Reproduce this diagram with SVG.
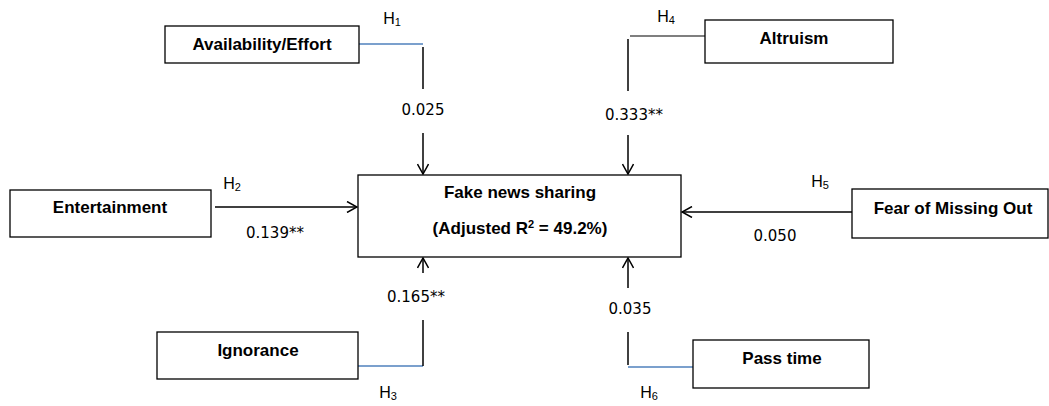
<svg xmlns="http://www.w3.org/2000/svg" width="1049" height="406" viewBox="0 0 1049 406">
<style>
.box{fill:#fff;stroke:#000;stroke-width:1.3}
.lbl{font-family:"Liberation Sans",Arial,sans-serif;font-weight:bold;font-size:17px;text-anchor:middle;fill:#000}
.num{font-family:"DejaVu Sans",Verdana,sans-serif;font-size:15px;text-anchor:middle;fill:#000}
.h{font-family:"Liberation Sans",Arial,sans-serif;font-size:16px;text-anchor:middle;fill:#000}
.ln{fill:none;stroke:#000;stroke-width:1.5}
.bl{fill:none;stroke:#4f81bd;stroke-width:1.5}
.gr{fill:none;stroke:#555;stroke-width:1.5}
</style>
<defs>
<marker id="arr" viewBox="0 0 12 12" refX="11" refY="6" markerWidth="12" markerHeight="12" markerUnits="userSpaceOnUse" orient="auto">
<polyline points="1,0.5 11,6 1,11.5" fill="none" stroke="#000" stroke-width="1.5"/>
</marker>
</defs>
<g id="connectors">
<line class="bl" x1="359" y1="44" x2="423" y2="44"/>
<line class="ln" x1="423" y1="47" x2="423" y2="89"/>
<line class="ln" x1="423" y1="133" x2="423" y2="174" marker-end="url(#arr)"/>
<line class="gr" x1="630" y1="36" x2="705" y2="36"/>
<line class="ln" x1="628" y1="39" x2="628" y2="91"/>
<line class="ln" x1="628" y1="135" x2="628" y2="174" marker-end="url(#arr)"/>
<line class="ln" x1="215" y1="207" x2="357" y2="207" marker-end="url(#arr)"/>
<line class="ln" x1="852" y1="212" x2="682" y2="212" marker-end="url(#arr)"/>
<line class="bl" x1="358" y1="366" x2="423" y2="366"/>
<line class="ln" x1="423" y1="366" x2="423" y2="320"/>
<line class="ln" x1="423" y1="273" x2="423" y2="258" marker-end="url(#arr)"/>
<line class="bl" x1="628" y1="367" x2="693" y2="367"/>
<line class="ln" x1="628" y1="365" x2="628" y2="332"/>
<line class="ln" x1="628" y1="288" x2="628" y2="258" marker-end="url(#arr)"/>
<text class="h" x="392" y="24">H<tspan font-size="11" dy="2">1</tspan></text>
<text class="num" x="423" y="115">0.025</text>
<text class="h" x="666" y="22">H<tspan font-size="11" dy="2">4</tspan></text>
<text class="num" x="634" y="120">0.333**</text>
<text class="h" x="232" y="189">H<tspan font-size="11" dy="2">2</tspan></text>
<text class="num" x="275" y="238">0.139**</text>
<text class="h" x="820" y="187">H<tspan font-size="11" dy="2">5</tspan></text>
<text class="num" x="775" y="241">0.050</text>
<text class="num" x="416" y="302">0.165**</text>
<text class="h" x="388" y="398">H<tspan font-size="11" dy="2">3</tspan></text>
<text class="num" x="630" y="314">0.035</text>
<text class="h" x="649" y="398">H<tspan font-size="11" dy="2">6</tspan></text>
</g>
<g id="availability">
<rect class="box" x="165" y="26" width="194" height="37"/>
<text class="lbl" x="262" y="50">Availability/Effort</text>
</g>
<g id="altruism">
<rect class="box" x="705" y="20" width="188" height="43"/>
<text class="lbl" x="794" y="44">Altruism</text>
</g>
<g id="entertainment">
<rect class="box" x="10" y="190" width="201" height="47"/>
<text class="lbl" x="110" y="213">Entertainment</text>
</g>
<g id="fakenews">
<rect class="box" x="358" y="175" width="323" height="82"/>
<text class="lbl" x="520" y="198">Fake news sharing</text>
<text class="lbl" x="520" y="234">(Adjusted R<tspan font-size="11" dy="-6">2</tspan><tspan dy="6"> = 49.2%)</tspan></text>
</g>
<g id="fomo">
<rect class="box" x="852" y="189" width="196" height="49"/>
<text class="lbl" x="953" y="214">Fear of Missing Out</text>
</g>
<g id="ignorance">
<rect class="box" x="157" y="332" width="201" height="47"/>
<text class="lbl" x="258" y="356">Ignorance</text>
</g>
<g id="passtime">
<rect class="box" x="693" y="340" width="176" height="48"/>
<text class="lbl" x="782" y="364">Pass time</text>
</g>
</svg>
